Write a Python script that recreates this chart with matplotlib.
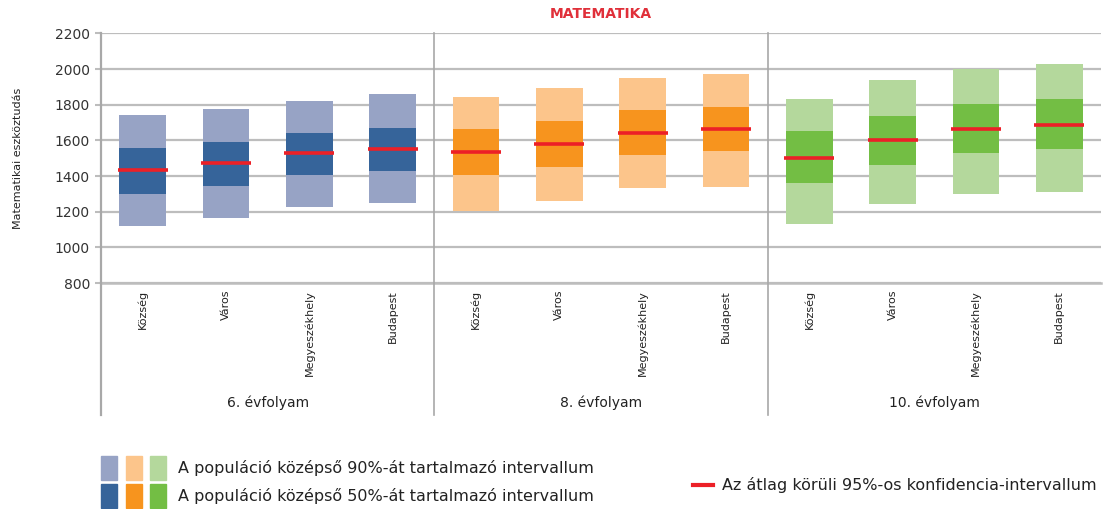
import matplotlib
matplotlib.use("Agg")
import matplotlib.pyplot as plt
from matplotlib.patches import Rectangle
from matplotlib.lines import Line2D
import numpy as np

# ---- data ----
categories = ["Község", "Város", "Megyeszékhely", "Budapest"]
groups = ["6. évfolyam", "8. évfolyam", "10. évfolyam"]

p05 = [[1117, 1164, 1226, 1251],
       [1201, 1261, 1330, 1339],
       [1130, 1242, 1300, 1310]]
p95 = [[1743, 1776, 1823, 1858],
       [1842, 1892, 1951, 1970],
       [1832, 1939, 1998, 2026]]
p25 = [[1300, 1345, 1408, 1427],
       [1403, 1453, 1519, 1541],
       [1363, 1461, 1528, 1550]]
p75 = [[1556, 1593, 1643, 1671],
       [1662, 1711, 1771, 1786],
       [1651, 1739, 1804, 1832]]
means = [[1431, 1472, 1528, 1550],
         [1537, 1582, 1643, 1662],
         [1502, 1601, 1662, 1687]]

yticks = [800, 1000, 1200, 1400, 1600, 1800, 2000, 2200]

light_colors = ["#97A3C5", "#FCC58B", "#B4D89C"]
dark_colors = ["#36649A", "#F7941E", "#73BE44"]
red = "#EC2027"
grid_c = "#BDBDBD"

fig = plt.figure(figsize=(11.16, 5.09), dpi=100)
ax = fig.add_axes([0.0905, 0.444, 0.896, 0.4905])

ncat = len(categories)
width = 0.56
positions = []
labels = []
for g in range(len(groups)):
    x = np.arange(ncat) + g * ncat + 0.5
    positions.extend(x)
    labels.extend(categories)
    lo = np.array(p05[g]); hi = np.array(p95[g])
    ax.bar(x, hi - lo, bottom=lo, width=width, color=light_colors[g], zorder=3)
    lo = np.array(p25[g]); hi = np.array(p75[g])
    ax.bar(x, hi - lo, bottom=lo, width=width, color=dark_colors[g], zorder=4)
    ax.hlines(means[g], x - 0.3, x + 0.3, colors=red, linewidth=2.6, zorder=5)

ax.set_xlim(0, ncat * len(groups))
ax.set_ylim(800, 2200)
ax.set_yticks(yticks)
ax.set_yticklabels([str(v) for v in yticks], fontsize=10, color="#333333")
ax.yaxis.grid(True, color=grid_c, linewidth=1.6, zorder=0)
ax.set_axisbelow(True)
ax.tick_params(axis="y", length=4, width=1.5, color=grid_c, pad=4)

ax.set_xticks(positions)
ax.set_xticklabels(labels, rotation=90, fontsize=8, va="top", color="#222222")
ax.tick_params(axis="x", length=0, pad=5)

for s in ["top", "right"]:
    ax.spines[s].set_visible(False)
ax.spines["left"].set_visible(False)
ax.spines["bottom"].set_color(grid_c)
ax.spines["bottom"].set_linewidth(1.8)

tr = ax.get_xaxis_transform()
for xv in [0, ncat, 2 * ncat]:
    ax.plot([xv, xv], [1, -0.53], transform=tr, color="#A8A8A8",
            linewidth=1.6 if xv == 0 else 1.2, clip_on=False, zorder=6)

for g, name in enumerate(groups):
    ax.text(g * ncat + ncat / 2, -0.48, name, transform=tr, ha="center",
            va="center", fontsize=10, color="#222222")

ax.set_ylabel("Matematikai eszköztudás", fontsize=8, color="#222222", labelpad=10)
ax.yaxis.set_label_coords(-0.078, 0.5)

fig.text(0.5385, 0.972, "MATEMATIKA", ha="center", va="center",
         fontsize=10, fontweight="bold", color="#E0303A")

# ---- legend (manual) ----
W, H = 1116, 509
sq_w, sq_h = 16, 24
xs = [101, 126, 150]
for i in range(3):
    fig.patches.append(Rectangle((xs[i] / W, (H - 480) / H), sq_w / W, sq_h / H,
                                 transform=fig.transFigure, color=light_colors[i]))
    fig.patches.append(Rectangle((xs[i] / W, (H - 508) / H), sq_w / W, sq_h / H,
                                 transform=fig.transFigure, color=dark_colors[i]))
fig.text(178 / W, 1 - 468 / H, "A populáció középső 90%-át tartalmazó intervallum",
         fontsize=11.5, va="center", color="#222222")
fig.text(178 / W, 1 - 496 / H, "A populáció középső 50%-át tartalmazó intervallum",
         fontsize=11.5, va="center", color="#222222")
fig.lines.append(Line2D([693 / W, 713 / W], [1 - 485 / H, 1 - 485 / H],
                        transform=fig.transFigure, color=red, linewidth=3))
fig.text(722 / W, 1 - 485 / H, "Az átlag körüli 95%-os konfidencia-intervallum",
         fontsize=11.5, va="center", color="#222222")

fig.savefig("out.png", dpi=100)
